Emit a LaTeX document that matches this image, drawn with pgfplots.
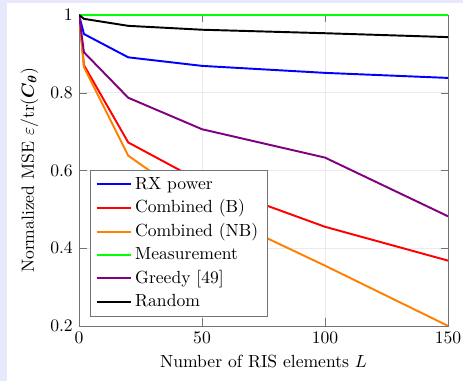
\documentclass[border=0pt]{standalone}
\usepackage{pgfplots}
\usepackage{bm}
\pgfplotsset{compat=1.18}
\definecolor{lavbg}{RGB}{232,232,252}
\definecolor{cblue}{RGB}{0,0,255}
\definecolor{cred}{RGB}{255,0,0}
\definecolor{corange}{RGB}{255,128,0}
\definecolor{cgreen}{RGB}{0,255,0}
\definecolor{cviolet}{RGB}{128,0,128}
\begin{document}
\begin{tikzpicture}
\useasboundingbox (-44.9pt,-31.25pt) rectangle (218.2pt,185.2pt);
\fill[lavbg] (-44.9pt,-31.25pt) rectangle (218.2pt,185.2pt);
\fill[white] (-40.9pt,-31.25pt) rectangle (218.2pt,183.5pt);
\begin{axis}[
  scale only axis,
  width=209.7pt, height=176.7pt,
  xmin=0, xmax=150, ymin=0.2, ymax=1,
  xtick={0,50,100,150},
  ytick={0.2,0.4,0.6,0.8,1},
  grid=major,
  major grid style={black!8},
  axis line style={black!55},
  tick style={black!55},
  xlabel={Number of RIS elements $L$},
  ylabel={Normalized MSE $\varepsilon/\mathrm{tr}(\bm{C}_{\bm{\theta}})$},
  legend pos=south west,
  legend cell align=left,
  legend style={draw=black!55, row sep=0.6pt},
  legend image code/.code={\draw[#1] (0cm,0cm) -- (0.68cm,0cm);},
]
\addplot[color=cblue, line width=1.1pt, mark=none] coordinates {(0,1) (2,0.951) (20,0.891) (50,0.869) (100,0.851) (150,0.838)};
\addlegendentry{RX power}
\addplot[color=cred, line width=1.1pt, mark=none] coordinates {(0,1) (2,0.871) (20,0.672) (50,0.570) (100,0.455) (150,0.368)};
\addlegendentry{Combined (B)}
\addplot[color=corange, line width=1.1pt, mark=none] coordinates {(0,1) (2,0.866) (20,0.638) (50,0.505) (100,0.355) (150,0.2)};
\addlegendentry{Combined (NB)}
\addplot[color=cgreen, line width=1.1pt, mark=none] coordinates {(0,1) (2,1) (20,1) (50,1) (100,1) (150,1)};
\addlegendentry{Measurement}
\addplot[color=cviolet, line width=1.1pt, mark=none] coordinates {(0,1) (2,0.904) (20,0.787) (50,0.706) (100,0.633) (150,0.482)};
\addlegendentry{Greedy [49]}
\addplot[color=black, line width=1.1pt, mark=none] coordinates {(0,1) (2,0.99) (20,0.972) (50,0.962) (100,0.953) (150,0.943)};
\addlegendentry{Random}
\end{axis}
\end{tikzpicture}
\end{document}
